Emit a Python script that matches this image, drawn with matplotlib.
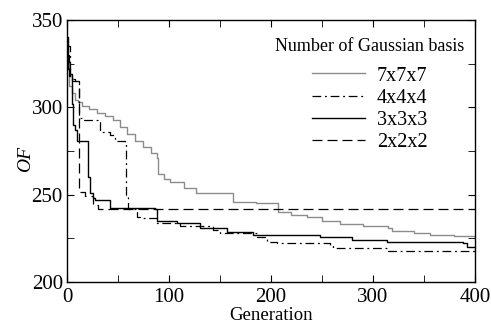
import matplotlib.pyplot as plt
from matplotlib.ticker import MultipleLocator

plt.rcParams['font.family'] = ['Liberation Serif', 'DejaVu Serif']

# 7x7x7
gen_7 = [0, 2, 5, 8, 11, 15, 22, 29, 37, 45, 52, 59, 67, 75, 82, 88, 89, 95, 101, 115, 127, 160, 163,
         185, 204, 207, 220, 235, 250, 268, 290, 315, 319, 340, 356, 380, 400]
of_7 = [325, 312, 308, 304, 303, 301, 299, 297, 295, 293, 289, 285, 281, 277, 274, 271, 262, 259, 257, 254, 251,
        251, 246, 245.5, 245, 240, 238.5, 237, 235, 233, 232, 231, 229, 228, 227, 226.5, 225.5]

# 4x4x4
gen_4 = [0, 3, 5, 10, 12, 15, 23, 32, 42, 47, 57, 58, 60, 64, 69, 72, 81, 88, 111, 143, 150, 186, 196,
         206, 258, 261, 314, 400]
of_4 = [335, 318, 315, 314, 294, 293, 293, 286, 284, 281, 280, 250, 242, 242, 237, 236.5, 236.5, 234, 232, 230,
        228, 226, 223, 222.5, 221, 219.5, 218, 217.5]

# 3x3x3
gen_3 = [0, 1, 3, 5, 6, 8, 10, 20, 21, 23, 25, 27, 40, 42, 86, 88, 108, 130, 157, 182, 248, 280, 314,
         388, 392, 400]
of_3 = [340, 322, 319, 302, 290, 287, 281, 281, 260, 251, 248, 247, 247, 242.5, 242, 235, 234, 231, 228.6,
        227, 225.8, 224, 223, 222.5, 220, 220]

# 2x2x2
gen_2 = [0, 2, 4, 8, 12, 13, 18, 25, 30, 400]
of_2 = [330, 318, 316, 315, 254, 251.5, 249, 244, 242, 242]

fig = plt.figure(figsize=(4.91, 3.26), dpi=100)
ax = fig.add_axes([0.1365, 0.135, 0.8305, 0.8037])

ax.plot(gen_7, of_7, color='#8c8c8c', lw=1.0, drawstyle='steps-post', label='7x7x7')
ax.plot(gen_4, of_4, color='black', lw=0.9, drawstyle='steps-post', dashes=(7, 3, 1.5, 3), label='4x4x4')
ax.plot(gen_3, of_3, color='black', lw=1.0, drawstyle='steps-post', label='3x3x3')
ax.plot(gen_2, of_2, color='black', lw=0.9, drawstyle='steps-post', dashes=(8, 4), label='2x2x2')

ax.set_xlim(0, 400)
ax.set_ylim(200, 350)
ax.xaxis.set_major_locator(MultipleLocator(100))
ax.xaxis.set_minor_locator(MultipleLocator(50))
ax.yaxis.set_major_locator(MultipleLocator(50))
ax.yaxis.set_minor_locator(MultipleLocator(25))
ax.tick_params(which='both', direction='in', top=True, right=True, labelsize=15)
ax.tick_params(axis='x', pad=4)
ax.tick_params(axis='y', pad=3)
ax.tick_params(which='major', length=5)
ax.tick_params(which='minor', length=5)
for s in ax.spines.values():
    s.set_linewidth(1.0)

ax.set_xlabel('Generation', fontsize=13.5, labelpad=0.5)
ax.set_ylabel('OF', fontsize=14, style='italic')
ax.yaxis.set_label_coords(-0.08, 0.47)

leg = ax.legend(title='Number of Gaussian basis', frameon=False, loc='upper right',
                fontsize=14.5, title_fontsize=13, handlelength=2.6, handletextpad=0.6,
                labelspacing=0.15, borderpad=0, borderaxespad=0,
                bbox_to_anchor=(0.975, 0.93), alignment='center')
leg._legend_box.sep = 8

fig.savefig('out.png', dpi=100)
